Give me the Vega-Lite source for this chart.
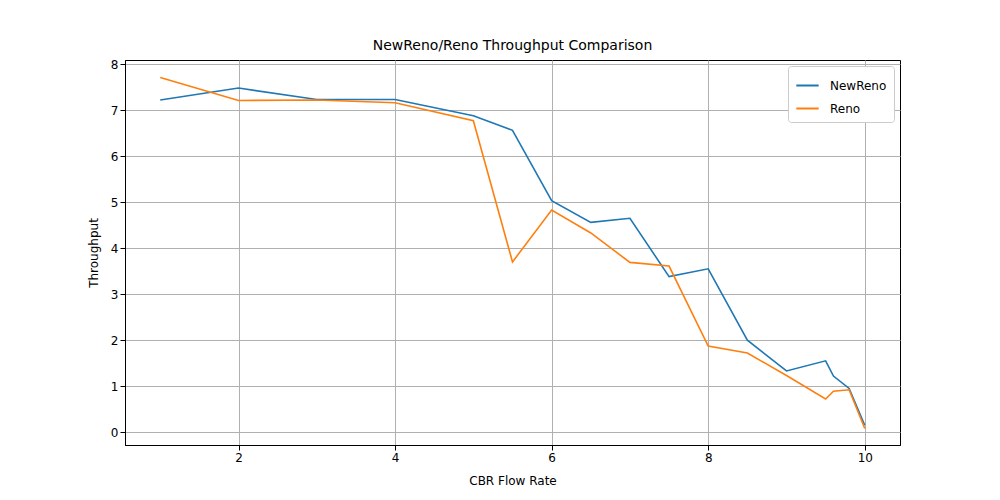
{
  "$schema": "https://vega.github.io/schema/vega-lite/v6.json",
  "width": 775,
  "height": 385,
  "autosize": "none",
  "padding": {"left": 125, "top": 60, "right": 100, "bottom": 55},
  "background": "white",
  "config": {
    "font": "DejaVu Sans",
    "view": {"stroke": "black"},
    "axis": {"labelFontSize": 12, "titleFontSize": 12, "titleFontWeight": "normal", "labelColor": "black", "titleColor": "black", "gridColor": "#b0b0b0", "tickColor": "black", "domainColor": "black"}
  },
  "title": {"text": "NewReno/Reno Throughput Comparison", "fontSize": 14, "fontWeight": "normal", "offset": 5},
  "data": {
    "values": [
      {"rate": 1, "tp": 7.22, "s": "NewReno"},
      {"rate": 2, "tp": 7.48, "s": "NewReno"},
      {"rate": 3, "tp": 7.23, "s": "NewReno"},
      {"rate": 4, "tp": 7.23, "s": "NewReno"},
      {"rate": 5, "tp": 6.88, "s": "NewReno"},
      {"rate": 5.5, "tp": 6.56, "s": "NewReno"},
      {"rate": 6, "tp": 5.03, "s": "NewReno"},
      {"rate": 6.5, "tp": 4.56, "s": "NewReno"},
      {"rate": 7, "tp": 4.65, "s": "NewReno"},
      {"rate": 7.5, "tp": 3.38, "s": "NewReno"},
      {"rate": 8, "tp": 3.55, "s": "NewReno"},
      {"rate": 8.5, "tp": 2.0, "s": "NewReno"},
      {"rate": 9, "tp": 1.33, "s": "NewReno"},
      {"rate": 9.5, "tp": 1.55, "s": "NewReno"},
      {"rate": 9.6, "tp": 1.22, "s": "NewReno"},
      {"rate": 9.8, "tp": 0.95, "s": "NewReno"},
      {"rate": 10, "tp": 0.15, "s": "NewReno"},
      {"rate": 1, "tp": 7.71, "s": "Reno"},
      {"rate": 2, "tp": 7.21, "s": "Reno"},
      {"rate": 3, "tp": 7.22, "s": "Reno"},
      {"rate": 4, "tp": 7.16, "s": "Reno"},
      {"rate": 5, "tp": 6.77, "s": "Reno"},
      {"rate": 5.5, "tp": 3.70, "s": "Reno"},
      {"rate": 6, "tp": 4.83, "s": "Reno"},
      {"rate": 6.5, "tp": 4.33, "s": "Reno"},
      {"rate": 7, "tp": 3.69, "s": "Reno"},
      {"rate": 7.5, "tp": 3.61, "s": "Reno"},
      {"rate": 8, "tp": 1.87, "s": "Reno"},
      {"rate": 8.5, "tp": 1.72, "s": "Reno"},
      {"rate": 9, "tp": 1.23, "s": "Reno"},
      {"rate": 9.5, "tp": 0.72, "s": "Reno"},
      {"rate": 9.6, "tp": 0.89, "s": "Reno"},
      {"rate": 9.8, "tp": 0.92, "s": "Reno"},
      {"rate": 10, "tp": 0.08, "s": "Reno"}
    ]
  },
  "mark": {"type": "line", "strokeWidth": 1.6},
  "encoding": {
    "x": {"field": "rate", "type": "quantitative", "title": "CBR Flow Rate",
      "scale": {"domain": [0.55, 10.45], "nice": false, "zero": false},
      "axis": {"values": [2, 4, 6, 8, 10], "titlePadding": 12}},
    "y": {"field": "tp", "type": "quantitative", "title": "Throughput",
      "scale": {"domain": [-0.28, 8.09], "nice": false, "zero": false},
      "axis": {"values": [0, 1, 2, 3, 4, 5, 6, 7, 8], "titlePadding": 10}},
    "color": {"field": "s", "type": "nominal",
      "scale": {"domain": ["NewReno", "Reno"], "range": ["#1f77b4", "#ff7f0e"]},
      "legend": {"title": null, "orient": "top-right", "symbolType": "stroke", "symbolSize": 500, "symbolStrokeWidth": 2, "labelFontSize": 12, "labelOffset": 10, "strokeColor": "#cccccc", "fillColor": "white", "padding": 7, "cornerRadius": 3, "offset": 6, "rowPadding": 4}}
  }
}
